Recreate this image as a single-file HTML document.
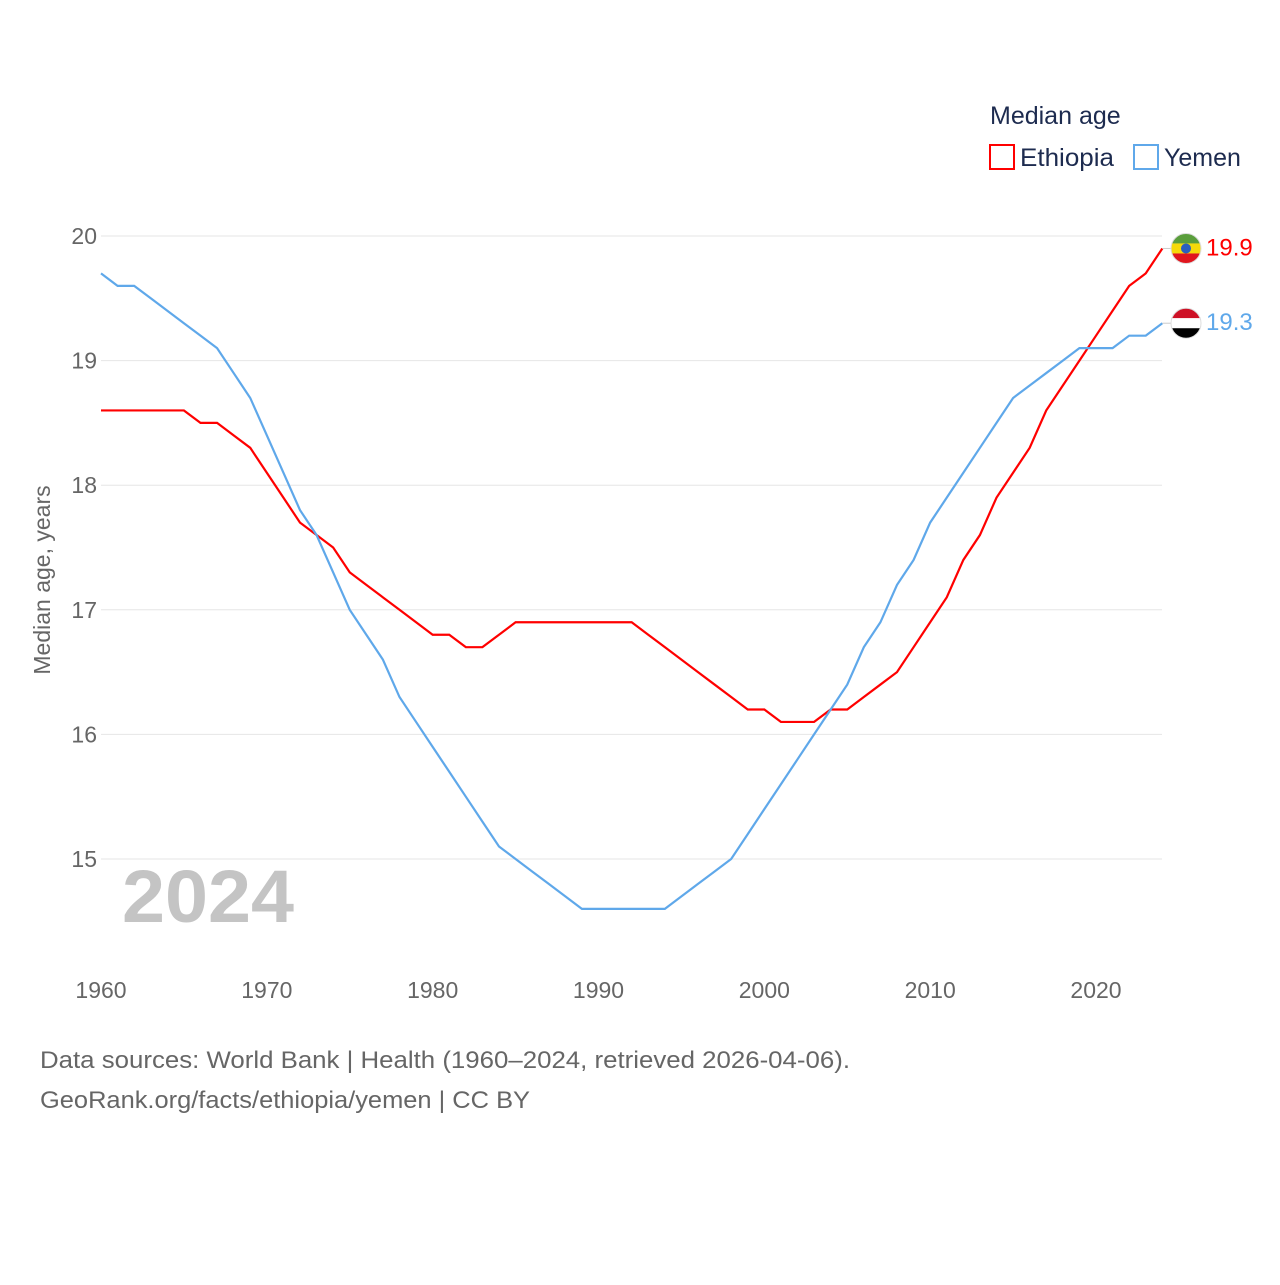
<!DOCTYPE html>
<html><head><meta charset="utf-8"><style>
body{margin:0;background:#fff;font-family:"Liberation Sans",sans-serif;}
svg text{font-family:"Liberation Sans",sans-serif;}
</style></head><body>
<svg id="chart" width="1280" height="1280" viewBox="0 0 1280 1280">
<text x="990" y="124" font-size="25" fill="#1d2b4f">Median age</text>
<g><rect x="990" y="145" width="24" height="24" fill="none" stroke="#f00" stroke-width="2"/><text x="1020" y="166" font-size="25" fill="#1d2b4f" textLength="94" lengthAdjust="spacingAndGlyphs">Ethiopia</text></g>
<g><rect x="1134" y="145" width="24" height="24" fill="none" stroke="#5fa8ea" stroke-width="2"/><text x="1164" y="166" font-size="25" fill="#1d2b4f">Yemen</text></g>
<g id="grid"></g><g id="xt"></g>
<text x="122" y="922" font-size="74" font-weight="bold" fill="#c4c4c4" textLength="172" lengthAdjust="spacingAndGlyphs">2024</text>
<text transform="translate(50,580) rotate(-90)" text-anchor="middle" font-size="23" fill="#666">Median age, years</text>
<g id="series"></g>
<text x="40" y="1068" font-size="24" fill="#666" textLength="810" lengthAdjust="spacingAndGlyphs">Data sources: World Bank | Health (1960–2024, retrieved 2026-04-06).</text>
<text x="40" y="1108" font-size="24" fill="#666" textLength="490" lengthAdjust="spacingAndGlyphs">GeoRank.org/facts/ethiopia/yemen | CC BY</text>
</svg>
<script>
const years=[];for(let y=1960;y<=2024;y++)years.push(y);
const ethiopia=[18.6,18.6,18.6,18.6,18.6,18.6,18.5,18.5,18.4,18.3,18.1,17.9,17.7,17.6,17.5,17.3,17.2,17.1,17.0,16.9,16.8,16.8,16.7,16.7,16.8,16.9,16.9,16.9,16.9,16.9,16.9,16.9,16.9,16.8,16.7,16.6,16.5,16.4,16.3,16.2,16.2,16.1,16.1,16.1,16.2,16.2,16.3,16.4,16.5,16.7,16.9,17.1,17.4,17.6,17.9,18.1,18.3,18.6,18.8,19.0,19.2,19.4,19.6,19.7,19.9];
const yemen=[19.7,19.6,19.6,19.5,19.4,19.3,19.2,19.1,18.9,18.7,18.4,18.1,17.8,17.6,17.3,17.0,16.8,16.6,16.3,16.1,15.9,15.7,15.5,15.3,15.1,15.0,14.9,14.8,14.7,14.6,14.6,14.6,14.6,14.6,14.6,14.7,14.8,14.9,15.0,15.2,15.4,15.6,15.8,16.0,16.2,16.4,16.7,16.9,17.2,17.4,17.7,17.9,18.1,18.3,18.5,18.7,18.8,18.9,19.0,19.1,19.1,19.1,19.2,19.2,19.3];
const yTicks=[15,16,17,18,19,20];
const xTicks=[1960,1970,1980,1990,2000,2010,2020];
const NS="http://www.w3.org/2000/svg";
const X=y=>101+(y-1960)*(1096-101)/60;
const Y=v=>236+(20-v)*(859-236)/5;
function mk(t,a,p){const e=document.createElementNS(NS,t);for(const k in a)e.setAttribute(k,a[k]);p.appendChild(e);return e;}
const grid=document.getElementById('grid');
yTicks.forEach(v=>{
 const l=mk('line',{x1:101,x2:1162,y1:Y(v),y2:Y(v),stroke:'#e6e6e6','stroke-width':1},grid);
 
 
 const t=mk('text',{x:97,y:Y(v)+8,'text-anchor':'end','font-size':23,fill:'#666'},grid);t.textContent=v;
 
 
});
const xt=document.getElementById('xt');
xTicks.forEach(v=>{
 const t=mk('text',{x:X(v),y:998,'text-anchor':'middle','font-size':23,fill:'#666'},xt);t.textContent=v;
 
 
});
const s=document.getElementById('series');
[[ethiopia,'#f00','ethiopia'],[yemen,'#5fa8ea','yemen']].forEach(([d,c,n])=>{
 const p=mk('polyline',{points:d.map((v,i)=>X(years[i])+','+Y(v)).join(' '),fill:'none',stroke:c,'stroke-width':2.2},s);
 
 
 const last=d[d.length-1],cy=Y(last);
 const g=mk('g',{},s);
 
 
 mk('line',{x1:X(2024),x2:1172,y1:Y(last),y2:cy,stroke:'#ccc'},g);
 const id='clip'+n;const cp=mk('clipPath',{id:id},g);mk('circle',{cx:1186,cy:cy,r:15},cp);
 const cols=n==='ethiopia'?['#5a9e3c','#f5d90a','#e0161e']:['#ce1126','#fff','#000'];
 cols.forEach((cc,i)=>mk('rect',{x:1171,y:cy-15+i*10,width:30,height:10,fill:cc,'clip-path':'url(#'+id+')'},g));
 if(n==='ethiopia')mk('circle',{cx:1186,cy:cy,r:5,fill:'#2a5fbf'},g);
 mk('circle',{cx:1186,cy:cy,r:15,fill:'none',stroke:'#ddd','stroke-width':1},g);
 const t=mk('text',{x:1206,y:cy+7,'font-size':24,fill:c},s);t.textContent=last.toFixed(1);
 
 
});
</script>
</body></html>
